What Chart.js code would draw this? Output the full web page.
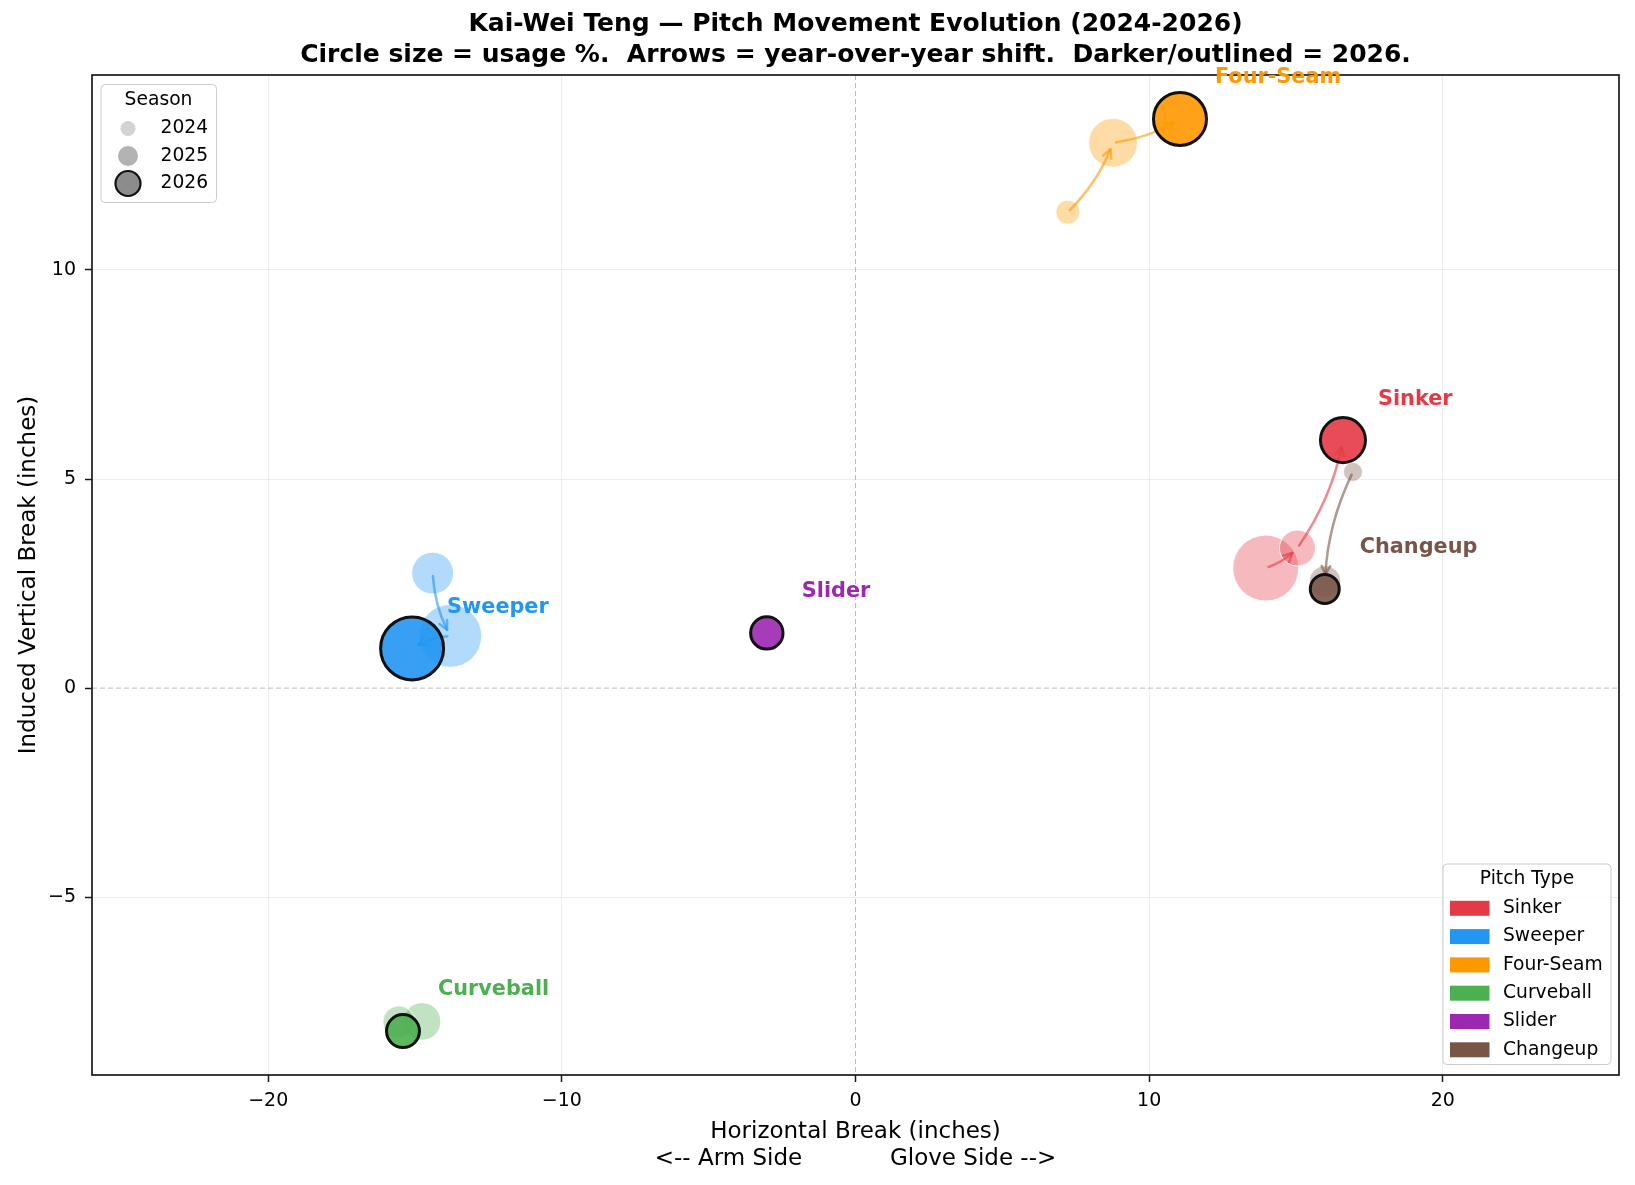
<!DOCTYPE html>
<html>
<head>
<meta charset="utf-8">
<script src="https://cdn.jsdelivr.net/npm/chart.js@4.4.1/dist/chart.umd.min.js"></script>
<style>
html, body { margin: 0; padding: 0; background: #fff; }
canvas { display: block; }
</style>
</head>
<body>
<canvas id="myChart" width="1635" height="1185"></canvas>
<script>
var pitches = ['Sinker', 'Sweeper', 'Four-Seam', 'Curveball', 'Slider', 'Changeup'];
var pitchColors = ['#E63946', '#2196F3', '#FF9800', '#4CAF50', '#9C27B0', '#795548'];
var seasons = ['2024', '2025', '2026'];

// horizontal break (in), induced vertical break (in), usage % -- one list per season
var hb2024 = [13.97, -14.40, 7.23, -14.76, null, 16.94];
var ivb2024 = [2.87, 2.75, 11.38, -7.97, null, 5.17];
var usage2024 = [36.9, 14.9, 4.9, 12.0, null, 3.1];

var hb2025 = [15.05, -13.80, 8.77, -15.55, null, 15.99];
var ivb2025 = [3.35, 1.25, 13.04, -7.98, null, 2.55];
var usage2025 = [11.0, 33.6, 20.3, 8.7, null, 8.5];

var hb2026 = [16.60, -15.10, 11.05, -15.41, -3.02, 15.98];
var ivb2026 = [5.93, 0.95, 13.61, -8.20, 1.32, 2.37];
var usage2026 = [17.2, 33.6, 23.8, 9.2, 8.9, 7.1];

var xTicks = [-20, -10, 0, 10, 20];
var yTicks = [-5, 0, 5, 10];

var seasonHb = [hb2024, hb2025, hb2026];
var seasonIvb = [ivb2024, ivb2025, ivb2026];
var seasonUsage = [usage2024, usage2025, usage2026];

var FONT = "'DejaVu Sans', sans-serif";
var MIN_SHIFT = 1.0; // inches; smaller moves get no arrow

function rgba(hex, a) {
    var n = parseInt(hex.slice(1), 16);
    return 'rgba(' + (n >> 16) + ',' + ((n >> 8) & 255) + ',' + (n & 255) + ',' + a + ')';
}

function bubbles(s) {
    var pts = [];
    for (var i = 0; i < pitches.length; i++) {
        if (seasonHb[s][i] === null) continue;
        pts.push({ x: seasonHb[s][i], y: seasonIvb[s][i], r: 5.43 * Math.sqrt(seasonUsage[s][i]), pitch: i });
    }
    return pts;
}

function seasonDataset(s) {
    var last = s === seasons.length - 1;
    return {
        label: seasons[s],
        data: bubbles(s),
        order: seasons.length - s,
        backgroundColor: function(c) { return rgba(pitchColors[c.raw.pitch], last ? 0.9 : 0.35); },
        borderColor: last ? '#111' : 'rgba(255,255,255,0.9)',
        borderWidth: last ? 3 : 1
    };
}

// year-over-year arrows, drawn just before the 2026 circles
function drawArrows(chart) {
    var ctx = chart.ctx, xs = chart.scales.x, ys = chart.scales.y;
    var f = 0.1, shrinkA = 3, shrinkB = 7, headL = 8.5, headW = 4.3;
    ctx.save();
    for (var p = 0; p < pitches.length; p++) {
        for (var s = 0; s < seasons.length - 1; s++) {
            var a = seasonHb[s][p], b = seasonHb[s + 1][p];
            if (a === null || b === null) continue;
            var dxv = b - a, dyv = seasonIvb[s + 1][p] - seasonIvb[s][p];
            if (Math.sqrt(dxv * dxv + dyv * dyv) < MIN_SHIFT) continue;
            var x1 = xs.getPixelForValue(a), y1 = ys.getPixelForValue(seasonIvb[s][p]);
            var x2 = xs.getPixelForValue(b), y2 = ys.getPixelForValue(seasonIvb[s + 1][p]);
            var cx = (x1 + x2) / 2 - f * (y2 - y1), cy = (y1 + y2) / 2 + f * (x2 - x1);
            var ux = cx - x1, uy = cy - y1, ul = Math.hypot(ux, uy);
            var sx = x1 + shrinkA * ux / ul, sy = y1 + shrinkA * uy / ul;
            var vx = x2 - cx, vy = y2 - cy, vl = Math.hypot(vx, vy);
            vx /= vl; vy /= vl;
            var ex = x2 - shrinkB * vx, ey = y2 - shrinkB * vy;
            ctx.strokeStyle = rgba(pitchColors[p], 0.6);
            ctx.lineWidth = 2.5;
            ctx.lineCap = 'round';
            ctx.lineJoin = 'round';
            ctx.beginPath();
            ctx.moveTo(sx, sy);
            ctx.quadraticCurveTo(cx, cy, ex, ey);
            ctx.stroke();
            ctx.beginPath();
            ctx.moveTo(ex - headL * vx - headW * vy, ey - headL * vy + headW * vx);
            ctx.lineTo(ex, ey);
            ctx.lineTo(ex - headL * vx + headW * vy, ey - headL * vy - headW * vx);
            ctx.stroke();
        }
    }
    ctx.restore();
}

function legendBox(ctx, x, y, w, h) {
    ctx.save();
    ctx.beginPath();
    ctx.roundRect(x, y, w, h, 4);
    ctx.fillStyle = 'rgba(255,255,255,0.8)';
    ctx.fill();
    ctx.strokeStyle = '#cccccc';
    ctx.lineWidth = 1;
    ctx.stroke();
    ctx.restore();
}

var decorPlugin = {
    id: 'decor',
    beforeDatasetsDraw: function(chart) {
        var ctx = chart.ctx, a = chart.chartArea;
        var x0 = chart.scales.x.getPixelForValue(0), y0 = chart.scales.y.getPixelForValue(0);
        ctx.save();
        ctx.strokeStyle = '#bdbdbd';
        ctx.lineWidth = 1;
        ctx.setLineDash([5, 3]);
        ctx.beginPath();
        ctx.moveTo(x0, a.top); ctx.lineTo(x0, a.bottom);
        ctx.moveTo(a.left, y0); ctx.lineTo(a.right, y0);
        ctx.stroke();
        ctx.setLineDash([]);
        ctx.strokeStyle = '#1a1a1a';
        ctx.lineWidth = 1.7;
        ctx.strokeRect(a.left, a.top, a.right - a.left, a.bottom - a.top);
        ctx.restore();
    },
    beforeDatasetDraw: function(chart, args) {
        if (args.index === seasons.length - 1) drawArrows(chart);
    },
    afterDatasetsDraw: function(chart) {
        var ctx = chart.ctx, xs = chart.scales.x, ys = chart.scales.y;
        var s = seasons.length - 1;
        ctx.save();
        ctx.font = 'bold 20.8px ' + FONT;
        ctx.textAlign = 'left';
        ctx.textBaseline = 'middle';
        for (var p = 0; p < pitches.length; p++) {
            if (seasonHb[s][p] === null) continue;
            ctx.fillStyle = pitchColors[p];
            ctx.fillText(pitches[p], xs.getPixelForValue(seasonHb[s][p]) + 35, ys.getPixelForValue(seasonIvb[s][p]) - 41);
        }
        ctx.restore();
    },
    afterDraw: function(chart) {
        var ctx = chart.ctx, a = chart.chartArea;
        var cx = (a.left + a.right) / 2;
        ctx.save();
        // title
        ctx.fillStyle = '#000';
        ctx.font = 'bold 25px ' + FONT;
        ctx.textAlign = 'center';
        ctx.textBaseline = 'alphabetic';
        ctx.fillText('Kai-Wei Teng \u2014 Pitch Movement Evolution (2024-2026)', cx, 31);
        ctx.fillText('Circle size = usage %.  Arrows = year-over-year shift.  Darker/outlined = 2026.', cx, 62);

        // season legend
        legendBox(ctx, 101, 84.5, 115.5, 118);
        ctx.font = '18.7px ' + FONT;
        ctx.textBaseline = 'middle';
        ctx.fillStyle = '#000';
        ctx.fillText('Season', 158.5, 100);
        var mr = [7.5, 10, 12.5], ma = [0.35, 0.6, 0.9];
        for (var i = 0; i < seasons.length; i++) {
            var yy = 128.5 + i * 27.5;
            ctx.beginPath();
            ctx.arc(128, yy, mr[i], 0, Math.PI * 2);
            ctx.fillStyle = 'rgba(128,128,128,' + ma[i] + ')';
            ctx.fill();
            if (i === seasons.length - 1) {
                ctx.strokeStyle = '#111';
                ctx.lineWidth = 2.2;
                ctx.stroke();
            }
            ctx.fillStyle = '#000';
            ctx.textAlign = 'left';
            ctx.fillText(seasons[i], 160.5, yy);
        }

        // pitch type legend
        legendBox(ctx, 1443, 864, 168, 200.5);
        ctx.textAlign = 'center';
        ctx.fillText('Pitch Type', 1527, 879.5);
        ctx.textAlign = 'left';
        for (var p = 0; p < pitches.length; p++) {
            var py = 908.3 + p * 28.3;
            ctx.fillStyle = pitchColors[p];
            ctx.fillRect(1450, py - 7.5, 39.5, 15);
            ctx.fillStyle = '#000';
            ctx.fillText(pitches[p], 1503, py);
        }
        ctx.restore();
    }
};

Chart.defaults.font.family = FONT;
Chart.defaults.color = '#000';

var ctx = document.getElementById('myChart').getContext('2d');
var chart = new Chart(ctx, {
    type: 'bubble',
    data: {
        datasets: seasons.map(function(s, i) { return seasonDataset(i); })
    },
    options: {
        responsive: false,
        animation: false,
        devicePixelRatio: 1,
        events: [],
        layout: { autoPadding: false, padding: { left: 0, right: 16, top: 75, bottom: 0 } },
        plugins: {
            legend: { display: false },
            tooltip: { enabled: false }
        },
        scales: {
            x: {
                type: 'linear',
                min: -26,
                max: 26,
                afterBuildTicks: function(scale) {
                    scale.ticks = xTicks.map(function(v) { return { value: v }; });
                },
                afterFit: function(scale) {
                    scale.height = 110;
                    scale.paddingLeft = 0;
                    scale.paddingRight = 0;
                },
                border: { display: false },
                grid: {
                    color: function(c) { return c.tick && c.tick.value === 0 ? 'rgba(0,0,0,0)' : 'rgba(0,0,0,0.07)'; },
                    tickColor: '#1a1a1a',
                    tickLength: 7,
                    tickWidth: 1.5
                },
                ticks: {
                    font: { size: 19 },
                    padding: 8,
                    maxRotation: 0,
                    callback: function(v) { return String(v).replace('-', '\u2212'); }
                },
                title: {
                    display: true,
                    text: ['Horizontal Break (inches)', '<-- Arm Side            Glove Side -->'],
                    font: { size: 23, lineHeight: 1.15 },
                    padding: { top: 0, bottom: 13 }
                }
            },
            y: {
                type: 'linear',
                min: -9.25,
                max: 14.66,
                afterBuildTicks: function(scale) {
                    scale.ticks = yTicks.map(function(v) { return { value: v }; });
                },
                afterFit: function(scale) {
                    scale.width = 92;
                    scale.paddingTop = 0;
                    scale.paddingBottom = 0;
                },
                border: { display: false },
                grid: {
                    color: function(c) { return c.tick && c.tick.value === 0 ? 'rgba(0,0,0,0)' : 'rgba(0,0,0,0.07)'; },
                    tickColor: '#1a1a1a',
                    tickLength: 7,
                    tickWidth: 1.5
                },
                ticks: {
                    font: { size: 19 },
                    padding: 9,
                    callback: function(v) { return String(v).replace('-', '\u2212'); }
                },
                title: {
                    display: true,
                    text: 'Induced Vertical Break (inches)',
                    font: { size: 23, lineHeight: 1.2 },
                    padding: { top: 15, bottom: 0 }
                }
            }
        }
    },
    plugins: [decorPlugin]
});
</script>
</body>
</html>
